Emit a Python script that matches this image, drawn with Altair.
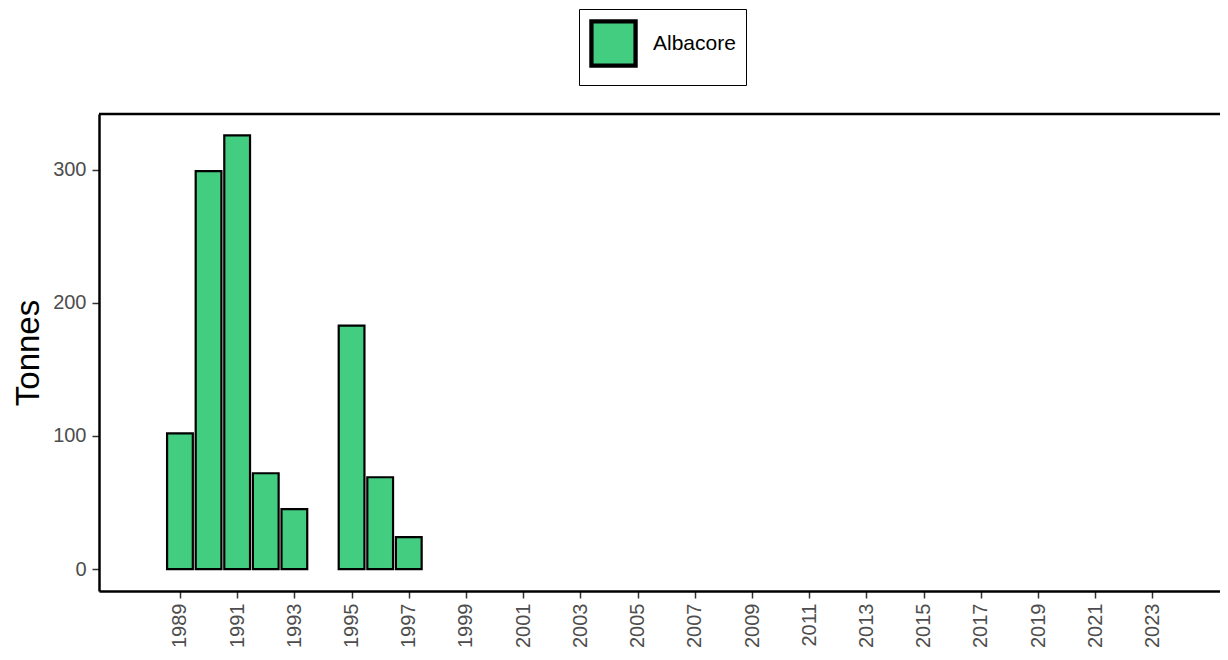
import altair as alt
import pandas as pd

years = [1989, 1990, 1991, 1992, 1993, 1995, 1996, 1997]
tonnes = [102, 299, 326, 72, 45, 183, 69, 24]
species = ["Albacore"] * len(years)
tick_years = list(range(1989, 2024, 2))

df = pd.DataFrame({"Year": years, "Tonnes": tonnes, "Species": species})

W, H = 1121, 477
FONT = "Liberation Sans"

bars = (
    alt.Chart(df)
    .transform_calculate(x0="datum.Year - 0.45", x1="datum.Year + 0.45")
    .mark_bar(stroke="black", strokeWidth=2.2, opacity=1)
    .encode(
        x=alt.X(
            "x0:Q",
            scale=alt.Scale(domain=[1986.17, 2025.36], nice=False, zero=False),
            axis=alt.Axis(
                values=tick_years, format="d", labelAngle=270, title=None,
                grid=False, domainColor="black", domainWidth=2.5,
                tickColor="#333333", tickSize=7, tickWidth=1.5,
                labelColor="#4D4D4D", labelFontSize=20, labelFont=FONT,
                labelPadding=5, labelOverlap=False,
            ),
        ),
        x2="x1:Q",
        y=alt.Y(
            "Tonnes:Q",
            scale=alt.Scale(domain=[-16.5, 342], nice=False, zero=False),
            axis=alt.Axis(
                values=[0, 100, 200, 300], title="Tonnes", grid=False,
                domainColor="black", domainWidth=2.5, tickColor="#333333",
                tickSize=7, tickWidth=1.5, labelColor="#4D4D4D",
                labelFontSize=20, labelFont=FONT, labelPadding=6,
                titleFont=FONT, titleFontSize=33, titleFontWeight="normal",
                titleColor="black", titleX=-71, titleY=H / 2,
                titleAngle=270, titleAlign="center", titleBaseline="middle",
            ),
        ),
        y2=alt.datum(0),
        fill=alt.Fill(
            "Species:N",
            scale=alt.Scale(domain=["Albacore"], range=["#43CD80"]),
            legend=alt.Legend(
                title=None, orient="none", legendX=480, legendY=-105,
                symbolType="square", symbolSize=1950, symbolStrokeColor="black",
                symbolStrokeWidth=4.3, symbolOpacity=1, symbolFillColor="#43CD80",
                labelFont=FONT, labelFontSize=21, labelColor="black",
                labelOffset=15, padding=10, strokeColor="black",
                fillColor="white", labelLimit=200,
            ),
        ),
    )
)

top_line = (
    alt.Chart(pd.DataFrame({"v": [0]}))
    .mark_rule(color="black", strokeWidth=2.5)
    .encode(x=alt.value(0), x2=alt.value(W), y=alt.value(0))
)

chart = (
    alt.layer(bars, top_line)
    .properties(
        width=W, height=H,
        autosize=alt.AutoSizeParams(type="none"),
        padding={"left": 91, "top": 106, "right": 0, "bottom": 60},
    )
    .configure_view(stroke=None)
    .configure(background="white")
)

chart.save("out.html", embed_options={"renderer": "svg", "actions": False})
